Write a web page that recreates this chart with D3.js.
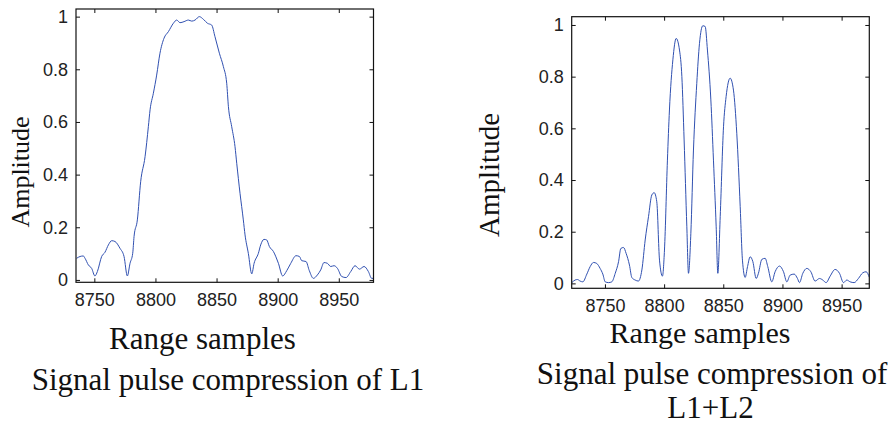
<!DOCTYPE html>
<html lang="en">
<head>
    <meta charset="UTF-8">
    <title>Signal pulse compression</title>
    <script src="https://d3js.org/d3.v7.min.js"></script>
    <style>
        body {
            margin: 0;
            background: #fff;
        }
        .tick text {
            font-family: "Liberation Sans", Arial, sans-serif;
            font-size: 18px;
            fill: #222;
        }
        .label {
            font-family: "Liberation Serif", "Times New Roman", serif;
            fill: #111;
        }
    </style>
</head>
<body>
    <div id="chart"></div>

    <script>
        // L1 pulse compression (range sample, amplitude)
        const l1Samples = [8735.5, 8738.3, 8741, 8742.4, 8745.1, 8747.8, 8750.5, 8752.5, 8756, 8758.7,
            8761.5, 8764.2, 8766.9, 8771, 8774.3, 8777, 8779.2, 8781.4, 8782.5, 8785.2,
            8787.9, 8791.5, 8794.2, 8795.6, 8798.3, 8801, 8803.7, 8807, 8810.6, 8814.7,
            8817.4, 8820.1, 8823.4, 8826.9, 8829.7, 8832.4, 8835.9, 8839.2, 8842.5, 8846,
            8848.7, 8852.3, 8855.6, 8858.3, 8859.7, 8862.4, 8865.1, 8866.5, 8869.2, 8871.9,
            8873.3, 8876, 8878.8, 8880.7, 8884.2, 8886.1, 8888.8, 8891, 8893.2, 8896.5,
            8900.6, 8904.1, 8907.4, 8910.7, 8915, 8917.8, 8919.7, 8923.2, 8925.9, 8929.2,
            8932.5, 8935.2, 8937.9, 8940.7, 8943.4, 8946.1, 8948.9, 8952.4, 8955.9, 8959.8,
            8963.3, 8966.9, 8970.7, 8974.2, 8976.9, 8979.7];
        const l1Amp = [0.082, 0.089, 0.091, 0.082, 0.057, 0.044, 0.015, 0.032, 0.089, 0.105,
            0.133, 0.149, 0.146, 0.12, 0.089, 0.015, 0.063, 0.101, 0.165, 0.228,
            0.373, 0.468, 0.582, 0.646, 0.709, 0.778, 0.861, 0.918, 0.943, 0.975,
            0.987, 0.977, 0.981, 0.987, 0.983, 0.987, 1.0, 0.99, 0.975, 0.968,
            0.924, 0.861, 0.81, 0.747, 0.658, 0.582, 0.506, 0.443, 0.329, 0.228,
            0.171, 0.101, 0.023, 0.063, 0.101, 0.133, 0.154, 0.152, 0.127, 0.108,
            0.063, 0.015, 0.035, 0.063, 0.092, 0.089, 0.073, 0.07, 0.035, 0.006,
            0.019, 0.038, 0.066, 0.063, 0.051, 0.054, 0.044, 0.013, 0.009, 0.032,
            0.054, 0.041, 0.051, 0.032, 0.006, 0.006];

        // L1+L2 pulse compression (range sample, amplitude)
        const l12Samples = [8722, 8724.8, 8726.8, 8729, 8731.3, 8734.7, 8737.5, 8740.3, 8743.1, 8745.9,
            8748.2, 8750.2, 8753, 8755.8, 8758.7, 8761.5, 8763.4, 8765.7, 8767.9, 8770.7,
            8772.7, 8775.5, 8778.3, 8781.2, 8784, 8786.8, 8789.6, 8791.6, 8793.8, 8796.1,
            8798.6, 8800.3, 8802.8, 8804.5, 8807.4, 8810.2, 8813, 8815, 8816.9, 8819.2,
            8820.6, 8822.6, 8824.8, 8827.6, 8829.9, 8832.7, 8834.7, 8836.6, 8839.5, 8841.7,
            8844, 8845.4, 8847.4, 8850.2, 8852.4, 8855.8, 8858.6, 8861.4, 8864.3, 8866.2,
            8868.5, 8870.5, 8872.7, 8875, 8877.8, 8879.7, 8882.6, 8885.4, 8887.6, 8891,
            8893.8, 8897.5, 8900.9, 8903.7, 8906.5, 8909.9, 8912.7, 8914.4, 8917.2, 8920.6,
            8924, 8927.6, 8931.3, 8934.1, 8936.9, 8940.3, 8944.5, 8948.2, 8951.6, 8954.4,
            8957.2, 8960.6, 8964.2, 8967.9, 8970.7, 8973.5];
        const l12Amp = [0.003, 0.013, 0.015, 0.009, 0.006, 0.036, 0.065, 0.081, 0.077, 0.058,
            0.036, 0.006, 0.003, 0.006, 0.039, 0.084, 0.135, 0.139, 0.116, 0.071,
            0.023, 0.013, 0.009, 0.052, 0.168, 0.258, 0.342, 0.351, 0.316, 0.09,
            0.028, 0.129, 0.477, 0.671, 0.865, 0.948, 0.903, 0.8, 0.555, 0.219,
            0.039, 0.194, 0.516, 0.774, 0.929, 0.997, 0.994, 0.903, 0.71, 0.477,
            0.219, 0.039, 0.258, 0.606, 0.723, 0.794, 0.748, 0.581, 0.297, 0.09,
            0.023, 0.065, 0.103, 0.084, 0.019, 0.039, 0.093, 0.097, 0.065, 0.006,
            0.045, 0.067, 0.045, 0.006, 0.032, 0.036, 0.019, 0.003, 0.039, 0.058,
            0.045, 0.009, 0.019, 0.013, 0.003, 0.028, 0.054, 0.039, 0.003, 0.013,
            0.006, 0.003, 0.019, 0.041, 0.045, 0.023];

        const xTicks = [8750, 8800, 8850, 8900, 8950];
        const yTicks = [0, 0.2, 0.4, 0.6, 0.8, 1];
        const yTickLabels = ["0", "0.2", "0.4", "0.6", "0.8", "1"];

        const width = 891, height = 425;
        const svg = d3.select("#chart").append("svg")
            .attr("width", width)
            .attr("height", height);

        svg.append("rect").attr("width", width).attr("height", height).attr("fill", "#fff");

        function drawPanel(id, box, xDomain, yDomain, xs, ys) {
            const x = d3.scaleLinear().domain(xDomain).range([box.left, box.right]);
            const y = d3.scaleLinear().domain(yDomain).range([box.bottom, box.top]);

            svg.append("clipPath").attr("id", id)
                .append("rect")
                .attr("x", box.left).attr("y", box.top)
                .attr("width", box.right - box.left)
                .attr("height", box.bottom - box.top);

            const pts = xs.map((v, i) => [v, ys[i]]);
            const line = d3.line()
                .x(d => x(d[0]))
                .y(d => y(d[1]))
                .curve(d3.curveMonotoneX);

            svg.append("path")
                .datum(pts)
                .attr("clip-path", `url(#${id})`)
                .attr("fill", "none")
                .attr("stroke", "#3050b0")
                .attr("stroke-width", 1)
                .attr("d", line);

            const fmt = v => yTickLabels[yTicks.indexOf(v)];

            // bottom / left with labels, ticks pointing inward
            svg.append("g")
                .attr("transform", `translate(0,${box.bottom})`)
                .call(d3.axisBottom(x).tickValues(xTicks).tickSize(-4).tickPadding(11).tickFormat(d3.format("d")))
                .call(g => g.select(".domain").remove());
            svg.append("g")
                .attr("transform", `translate(${box.left},0)`)
                .call(d3.axisLeft(y).tickValues(yTicks).tickSize(-4).tickPadding(8).tickFormat(fmt))
                .call(g => g.select(".domain").remove());
            // mirrored ticks on top / right
            svg.append("g")
                .attr("transform", `translate(0,${box.top})`)
                .call(d3.axisTop(x).tickValues(xTicks).tickSize(-4).tickFormat(""))
                .call(g => g.select(".domain").remove());
            svg.append("g")
                .attr("transform", `translate(${box.right},0)`)
                .call(d3.axisRight(y).tickValues(yTicks).tickSize(-4).tickFormat(""))
                .call(g => g.select(".domain").remove());

            svg.selectAll(".tick line").attr("stroke", "#111");

            svg.append("rect")
                .attr("x", box.left).attr("y", box.top)
                .attr("width", box.right - box.left)
                .attr("height", box.bottom - box.top)
                .attr("fill", "none")
                .attr("stroke", "#111")
                .attr("stroke-width", 1.2);
        }

        drawPanel("clipL", { left: 76, right: 373.5, top: 9, bottom: 282.3 },
            [8735, 8978.4], [-0.009, 1.029], l1Samples, l1Amp);
        drawPanel("clipR", { left: 571.7, right: 869.3, top: 16.7, bottom: 288.3 },
            [8721.9, 8973.4], [-0.019, 1.032], l12Samples, l12Amp);

        function label(txt, x, y, size, rotate) {
            const t = svg.append("text")
                .attr("class", "label")
                .attr("text-anchor", "middle")
                .style("font-size", size + "px")
                .text(txt);
            if (rotate) t.attr("transform", `translate(${x},${y}) rotate(-90)`);
            else t.attr("x", x).attr("y", y);
        }

        label("Amplitude", 29, 172, 26, true);
        label("Range samples", 202.5, 349, 31);
        label("Signal pulse compression of L1", 228, 390, 31);

        label("Amplitude", 499, 175, 29, true);
        label("Range samples", 700, 343, 30);
        label("Signal pulse compression of", 712, 384, 31);
        label("L1+L2", 710.5, 418, 31);
    </script>
</body>
</html>
